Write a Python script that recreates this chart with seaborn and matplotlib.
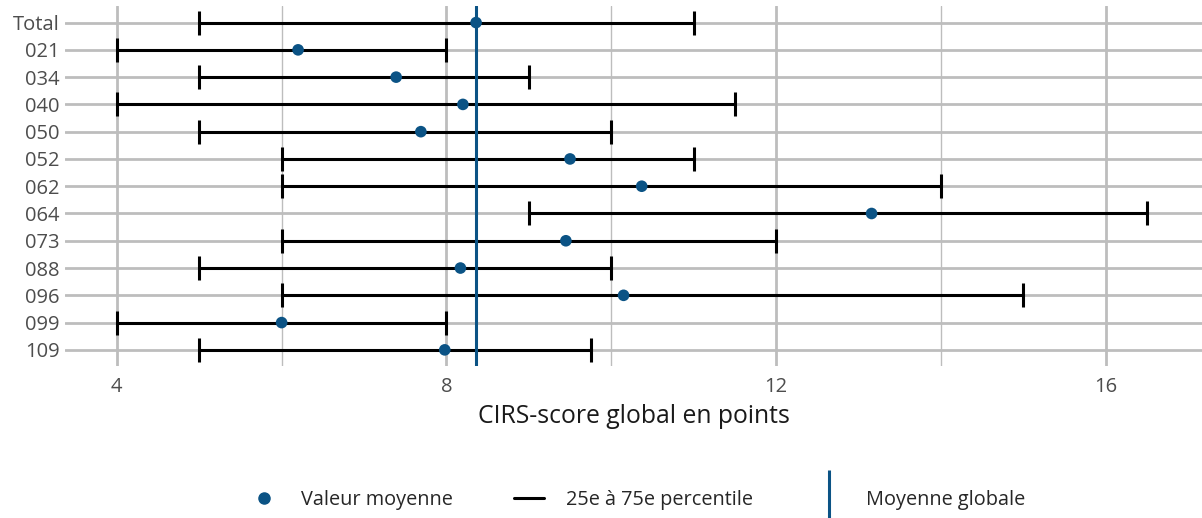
import matplotlib
matplotlib.use("Agg")
import matplotlib.pyplot as plt
import seaborn as sns
import pandas as pd
from matplotlib.lines import Line2D

# données
categories = ["Total", "021", "034", "040", "050", "052", "062", "064",
              "073", "088", "096", "099", "109"]
p25 = [5, 4, 5, 4, 5, 6, 6, 9, 6, 5, 6, 4, 5]
p75 = [11, 8, 9, 11.5, 10, 11, 14, 16.5, 12, 10, 15, 8, 9.75]
moyenne = [8.36, 6.2, 7.39, 8.2, 7.69, 9.5, 10.37, 13.16, 9.45, 8.17, 10.15, 6.0, 7.98]
moyenne_globale = 8.36

df = pd.DataFrame({"cat": categories, "p25": p25, "p75": p75, "moy": moyenne})
df["pos"] = range(len(df))

sns.set_style("white")
plt.rcParams['font.family'] = ['Open Sans', 'DejaVu Sans']

bleu = "#0b5385"
gris = "#bdbdbd"

fig = plt.figure(figsize=(12.02, 5.18), dpi=100)
ax = fig.add_axes([0.054, 0.293, 0.946, 0.695])

# grille
for v in [4, 8, 12, 16]:
    ax.axvline(v, color=gris, lw=2.0, zorder=0)
for v in [6, 10, 14]:
    ax.axvline(v, color=gris, lw=1.0, zorder=0)
for p in df["pos"]:
    ax.axhline(p, color=gris, lw=2.0, zorder=0)

# intervalles 25e-75e
mid = (df["p25"] + df["p75"]) / 2
half = (df["p75"] - df["p25"]) / 2
ax.errorbar(mid, df["pos"], xerr=half, fmt="none", ecolor="black",
            elinewidth=2.2, capsize=8.7, capthick=2.2, zorder=2)

ax.axvline(moyenne_globale, color=bleu, lw=2.2, zorder=3)

sns.scatterplot(data=df, x="moy", y="pos", color=bleu, s=70,
                edgecolor="none", zorder=4, ax=ax, legend=False)

ax.set_xlim(3.37, 17.17)
ax.set_ylim(12.6, -0.6)
ax.set_xticks([4, 8, 12, 16])
ax.set_yticks(df["pos"])
ax.set_yticklabels(categories)
ax.tick_params(axis="both", length=0, labelsize=14.5, colors="#4d4d4d", pad=4)
ax.tick_params(axis="x", pad=8)
ax.set_xlabel("CIRS-score global en points", fontsize=17.8, color="#1a1a1a", labelpad=5)
ax.set_ylabel("")
for s in ax.spines.values():
    s.set_visible(False)

handles = [
    Line2D([], [], ls="none", marker="o", color=bleu, markersize=8),
    Line2D([], [], color="black", lw=2.2),
    Line2D([], [], ls="none", marker="|", color=bleu, markersize=40, markeredgewidth=2.2),
]
labels = ["Valeur moyenne", "25e à 75e percentile", "Moyenne globale"]
fig.legend(handles, labels, loc="center", bbox_to_anchor=(0.53, 0.035), ncol=3,
           frameon=False, fontsize=14.3, handlelength=1.5, columnspacing=3.1,
           handletextpad=1.1)

fig.savefig("out.png", dpi=100)
